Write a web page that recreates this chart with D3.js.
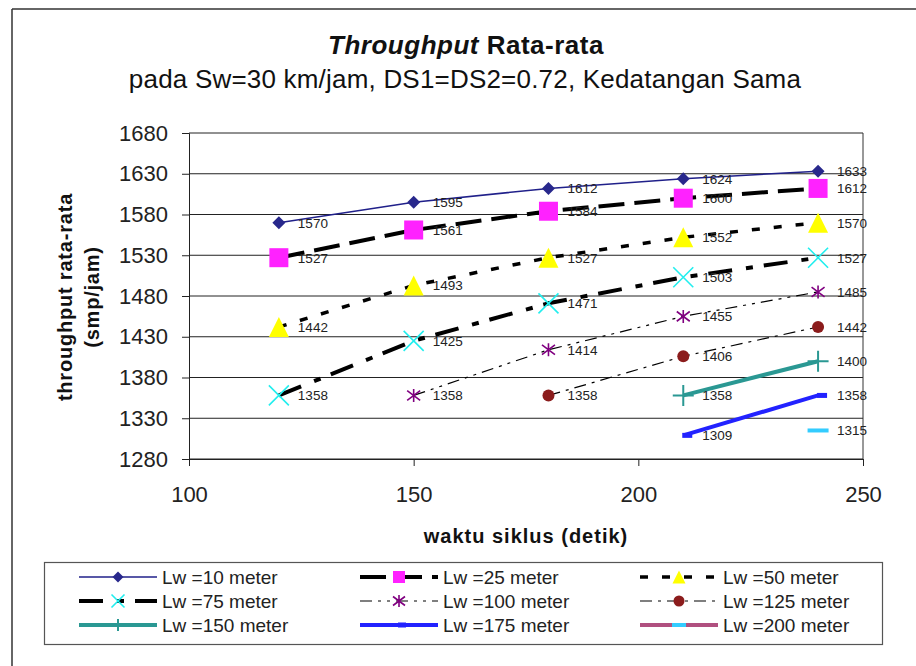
<!DOCTYPE html>
<html>
<head>
<meta charset="utf-8">
<script src="https://cdn.jsdelivr.net/npm/d3@7"></script>
<style>
  body { margin: 0; background: #fff; }
  svg { display: block; font-family: "Liberation Sans", Arial, Helvetica, sans-serif; }
</style>
</head>
<body>
<svg id="chart" width="916" height="666"></svg>
<script>
// Cycle times (detik) on the x axis
const cycleTimes = [120, 150, 180, 210, 240];

// Average throughput (smp/jam) per queue length Lw; null = no value
const lw10  = [1570, 1595, 1612, 1624, 1633];
const lw25  = [1527, 1561, 1584, 1600, 1612];
const lw50  = [1442, 1493, 1527, 1552, 1570];
const lw75  = [1358, 1425, 1471, 1503, 1527];
const lw100 = [null, 1358, 1414, 1455, 1485];
const lw125 = [null, null, 1358, 1406, 1442];
const lw150 = [null, null, null, 1358, 1400];
const lw175 = [null, null, null, 1309, 1358];
const lw200 = [null, null, null, null, 1315];

const seriesNames = ["Lw =10 meter", "Lw =25 meter", "Lw =50 meter",
                     "Lw =75 meter", "Lw =100 meter", "Lw =125 meter",
                     "Lw =150 meter", "Lw =175 meter", "Lw =200 meter"];
const seriesValues = [lw10, lw25, lw50, lw75, lw100, lw125, lw150, lw175, lw200];

const xTicks = [100, 150, 200, 250];
const yTicks = [1280, 1330, 1380, 1430, 1480, 1530, 1580, 1630, 1680];

const titleMain = ["Throughput", " Rata-rata"];
const subtitle = "pada Sw=30 km/jam, DS1=DS2=0.72, Kedatangan Sama";
const xTitle = "waktu siklus (detik)";
const yTitle = ["throughput rata-rata", "(smp/jam)"];

// Visual style of each series (line + marker)
const styles = [
  { stroke: "#20208a", width: 1.5, dash: null,               marker: "diamond",  fill: "#28288c", size: 13 },
  { stroke: "#000",    width: 4,   dash: "26,10",            marker: "square",   fill: "#ff22ff", size: 19 },
  { stroke: "#000",    width: 3.5, dash: "8,14",             marker: "triangle", fill: "#ffff00", size: 20 },
  { stroke: "#000",    width: 4,   dash: "24,14,7,11",       marker: "cross",    fill: "#22eeee", size: 20 },
  { stroke: "#000",    width: 1.2, dash: "12,6,3,6,3,6",     marker: "asterisk", fill: "#800080", size: 13 },
  { stroke: "#000",    width: 1.2, dash: "12,6,3,6",         marker: "circle",   fill: "#8b1c1c", size: 12 },
  { stroke: "#2a9893", width: 4,   dash: null,               marker: "plus",     fill: "#2a9893", size: 21 },
  { stroke: "#2222ff", width: 4,   dash: null,               marker: "bar",      fill: "#2222ff", size: 10 },
  { stroke: "#b0507f", width: 4,   dash: null,               marker: "wideBar",  fill: "#33ccff", size: 21 }
];

const svg = d3.select("#chart");

// Outer chart frame
svg.append("line").attr("x1", 12).attr("x2", 916).attr("y1", 9).attr("y2", 9)
  .attr("stroke", "#333").attr("stroke-width", 1.5);
svg.append("line").attr("x1", 12).attr("x2", 12).attr("y1", 9).attr("y2", 666)
  .attr("stroke", "#333").attr("stroke-width", 1.5);

const plot = { left: 189, right: 863, top: 133, bottom: 459 };
const x = d3.scaleLinear().domain([100, 250]).range([plot.left, plot.right]);
const y = d3.scaleLinear().domain([1280, 1680]).range([plot.bottom, plot.top]);

// Titles
const t = svg.append("text").attr("x", 466).attr("y", 54).attr("text-anchor", "middle")
  .attr("font-size", 26).attr("font-weight", "bold").attr("letter-spacing", 0.5).attr("fill", "#111");
t.append("tspan").attr("font-style", "italic").text(titleMain[0]);
t.append("tspan").text(titleMain[1]);
svg.append("text").attr("x", 465).attr("y", 88).attr("text-anchor", "middle")
  .attr("font-size", 26).attr("letter-spacing", 0.2).attr("fill", "#111").text(subtitle);

// Horizontal gridlines
svg.append("g").selectAll("line").data(yTicks).join("line")
  .attr("x1", plot.left).attr("x2", plot.right)
  .attr("y1", d => y(d)).attr("y2", d => y(d))
  .attr("stroke", "#222").attr("stroke-width", 1);

// Right border of the plot area
svg.append("line").attr("x1", plot.right).attr("x2", plot.right)
  .attr("y1", plot.top).attr("y2", plot.bottom).attr("stroke", "#333").attr("stroke-width", 1);

// Axes
const yAxis = svg.append("g").attr("transform", `translate(${plot.left},0)`)
  .call(d3.axisLeft(y).tickValues(yTicks).tickSize(7).tickPadding(14).tickFormat(d3.format("d")));
yAxis.select(".domain").attr("stroke", "#222");
yAxis.selectAll(".tick line").attr("stroke", "#222");
yAxis.selectAll(".tick text").attr("font-size", 22).attr("fill", "#222")
  .attr("font-family", "Liberation Sans, Arial, sans-serif");

const xAxis = svg.append("g").attr("transform", `translate(0,${plot.bottom})`)
  .call(d3.axisBottom(x).tickValues(xTicks).tickSize(7).tickSizeOuter(0).tickPadding(20).tickFormat(d3.format("d")));
xAxis.select(".domain").attr("stroke", "#222");
xAxis.selectAll(".tick line").attr("stroke", "#222");
xAxis.selectAll(".tick text").attr("font-size", 22).attr("fill", "#222")
  .attr("font-family", "Liberation Sans, Arial, sans-serif");

// Axis titles
svg.append("text").attr("x", 526).attr("y", 543).attr("text-anchor", "middle")
  .attr("font-size", 20).attr("font-weight", "bold").attr("letter-spacing", 1)
  .attr("fill", "#111").text(xTitle);
yTitle.forEach((line, i) => {
  svg.append("text").attr("transform", `translate(${[72, 99][i]},297) rotate(-90)`)
    .attr("text-anchor", "middle").attr("font-size", 20).attr("font-weight", "bold")
    .attr("letter-spacing", 0.8).attr("fill", "#111").text(line);
});

// Marker drawing
function drawMarker(g, type, cx, cy, size, color) {
  const h = size / 2;
  switch (type) {
    case "diamond":
      g.append("path").attr("d", `M${cx},${cy - h}L${cx + h},${cy}L${cx},${cy + h}L${cx - h},${cy}Z`)
        .attr("fill", color);
      break;
    case "square":
      g.append("rect").attr("x", cx - h).attr("y", cy - h).attr("width", size).attr("height", size)
        .attr("fill", color);
      break;
    case "triangle":
      g.append("path").attr("d", `M${cx},${cy - h}L${cx + h},${cy + h}L${cx - h},${cy + h}Z`)
        .attr("fill", color);
      break;
    case "cross":
      g.append("path").attr("d", `M${cx - h},${cy - h}L${cx + h},${cy + h}M${cx - h},${cy + h}L${cx + h},${cy - h}`)
        .attr("stroke", color).attr("stroke-width", 1.6).attr("fill", "none");
      break;
    case "asterisk":
      g.append("path").attr("d",
        `M${cx - h},${cy - h * 0.75}L${cx + h},${cy + h * 0.75}M${cx - h},${cy + h * 0.75}L${cx + h},${cy - h * 0.75}M${cx},${cy - h}L${cx},${cy + h}`)
        .attr("stroke", color).attr("stroke-width", 1.6).attr("fill", "none");
      break;
    case "circle":
      g.append("circle").attr("cx", cx).attr("cy", cy).attr("r", h).attr("fill", color);
      break;
    case "plus":
      g.append("path").attr("d", `M${cx - h},${cy}L${cx + h},${cy}M${cx},${cy - h}L${cx},${cy + h}`)
        .attr("stroke", color).attr("stroke-width", 2).attr("fill", "none");
      break;
    case "bar":
      g.append("rect").attr("x", cx - 1).attr("y", cy - 2.5).attr("width", size).attr("height", 5)
        .attr("fill", color);
      break;
    case "wideBar":
      g.append("rect").attr("x", cx - h).attr("y", cy - 2).attr("width", size).attr("height", 4)
        .attr("fill", color);
      break;
  }
}

// Series lines, markers and value labels
const line = d3.line().defined(d => d.v != null).x(d => x(d.t)).y(d => y(d.v));
const seriesG = svg.append("g");
const labelG = svg.append("g");
seriesValues.forEach((vals, i) => {
  const s = styles[i];
  const pts = vals.map((v, j) => ({ t: cycleTimes[j], v }));
  const g = seriesG.append("g");
  g.append("path").datum(pts).attr("d", line).attr("fill", "none")
    .attr("stroke", s.stroke).attr("stroke-width", s.width)
    .attr("stroke-dasharray", s.dash).attr("stroke-linejoin", "round");
  pts.filter(p => p.v != null).forEach(p => {
    drawMarker(g, s.marker, x(p.t), y(p.v), s.size, s.fill);
    labelG.append("text").attr("x", x(p.t) + 19).attr("y", y(p.v)).attr("dy", "0.36em")
      .attr("font-size", 13.5).attr("fill", "#222").text(p.v);
  });
});

// Legend
const legend = svg.append("g");
legend.append("rect").attr("x", 44.5).attr("y", 562.5).attr("width", 838).attr("height", 82)
  .attr("fill", "#fff").attr("stroke", "#555").attr("stroke-width", 1.2);
const colX = [79, 360, 640];
const rowY = [577, 601, 625];
const legendMarkerSize = [11, 12, 13, 13, 12, 11, 12, 8, 14];
seriesNames.forEach((name, i) => {
  const s = styles[i];
  const cx0 = colX[i % 3], cy = rowY[Math.floor(i / 3)];
  const g = legend.append("g");
  g.append("line").attr("x1", cx0).attr("x2", cx0 + 78).attr("y1", cy).attr("y2", cy)
    .attr("stroke", s.stroke).attr("stroke-width", s.width).attr("stroke-dasharray", s.dash);
  drawMarker(g, s.marker, cx0 + 39, cy, legendMarkerSize[i], s.fill);
  g.append("text").attr("x", cx0 + 83).attr("y", cy).attr("dy", "0.36em")
    .attr("font-size", 19).attr("fill", "#222").text(name);
});
</script>
</body>
</html>
